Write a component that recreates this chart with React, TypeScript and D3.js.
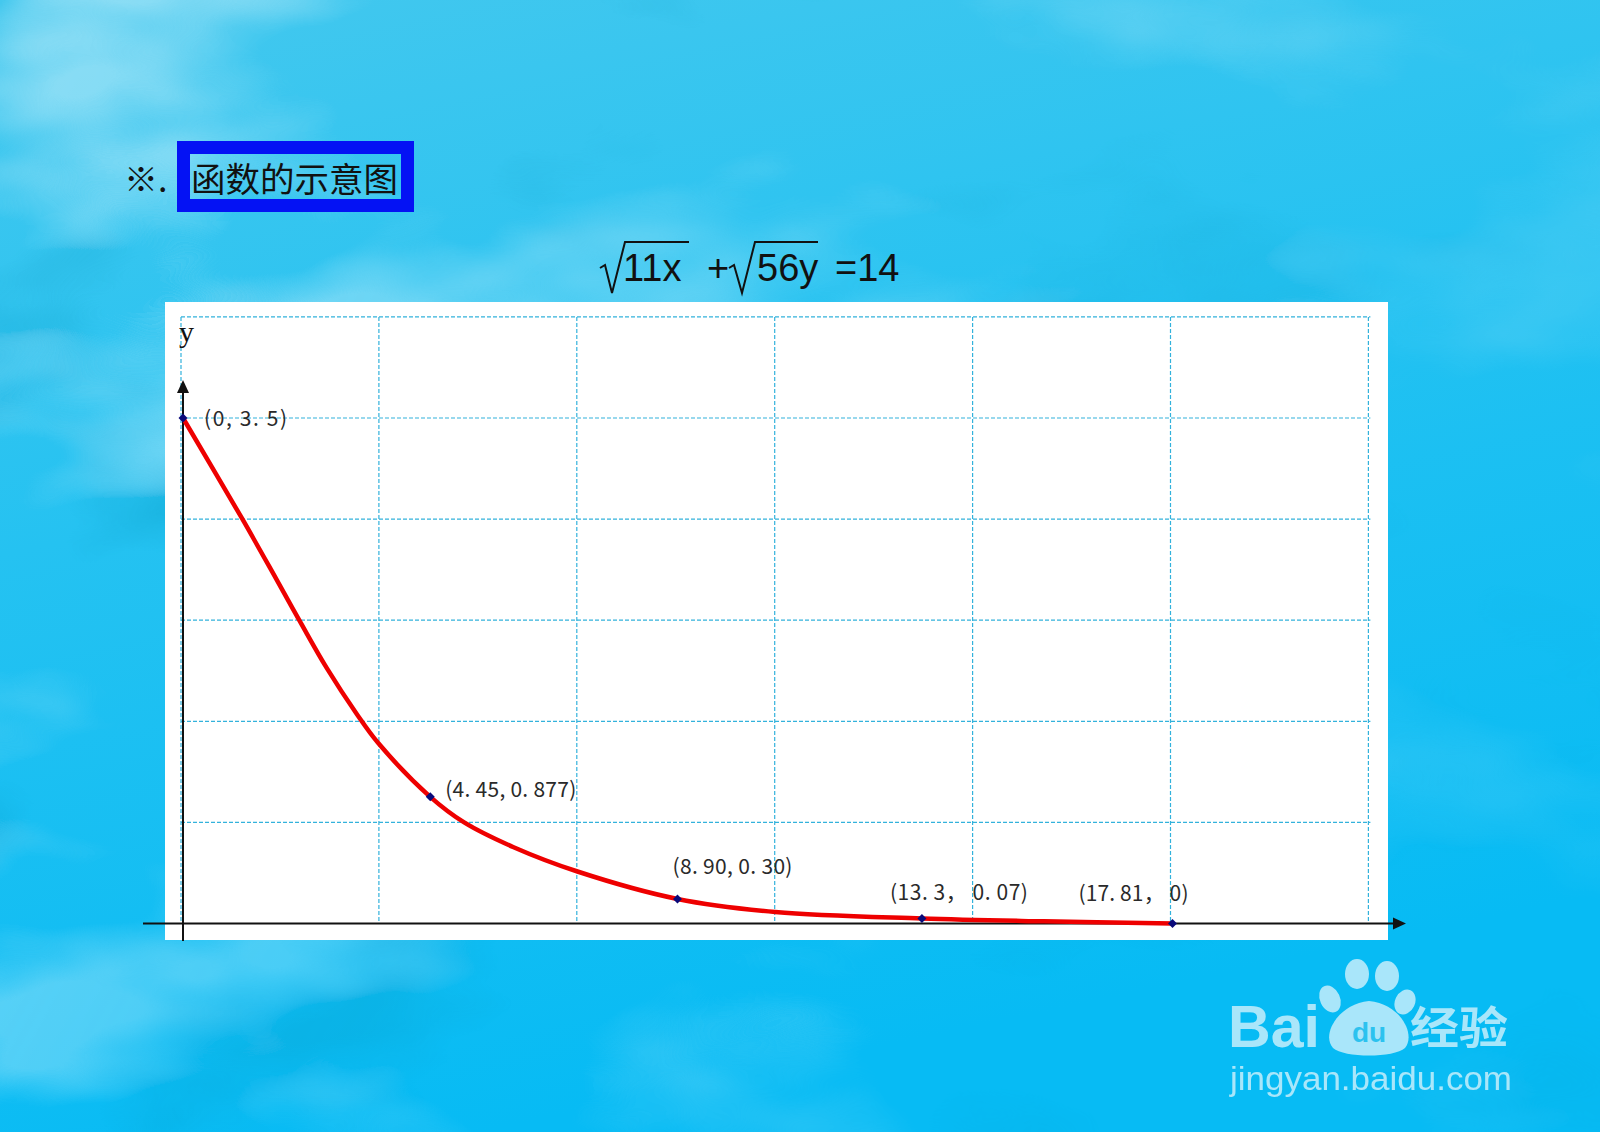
import React from "react";
import * as d3 from "d3";

// ---------- data ----------
const curveX = [0, 1.06, 1.66, 2.12, 2.58, 3.13, 3.51, 4.45, 5.06, 5.94, 7.1, 8.9, 10.66, 13.3, 15.5, 17.81];
const curveY = [3.5, 2.806, 2.398, 2.081, 1.773, 1.449, 1.251, 0.877, 0.7, 0.53, 0.36, 0.17, 0.08, 0.035, 0.015, 0];

const pointX = [0, 4.45, 8.9, 13.3, 17.81];
const pointY = [3.5, 0.877, 0.17, 0.035, 0];
const pointLabels = ["(0, 3. 5)", "(4. 45, 0. 877)", "(8. 90, 0. 30)", "(13. 3， 0. 07)", "(17. 81，  0)"];

const gridXTicks = [0, 3.562, 7.124, 10.686, 14.248, 17.81, 21.372];
const gridYTicks = [0, 0.7, 1.4, 2.1, 2.8, 3.5, 4.2];

const titlePrefix = "※.";
const titleText = "函数的示意图";
const axisLabelY = "y";
const eqParts = ["11x", "+", "56y", "=14"];
const wmBai = "Bai";
const wmDu = "du";
const wmCn = "经验";
const wmUrl = "jingyan.baidu.com";

// ---------- layout ----------
const W = 1600;
const H = 1132;
// [dx, dy, textLength]
const labelLayout = [
  [21, 8, 83],
  [15, 0, 131],
  [-5, -25, 120],
  [-32, -18, 138],
  [-94, -23, 110],
];

const xScale = d3.scaleLinear().domain([0, 17.81]).range([183, 1172.5]);
const yScale = d3.scaleLinear().domain([0, 3.5]).range([923.5, 418]);

export default function App() {
  const line = d3
    .line<number>()
    .x((d) => xScale(curveX[d]))
    .y((d) => yScale(curveY[d]))
    .curve(d3.curveCatmullRom.alpha(0.5));
  const curvePath = line(curveX.map((_, i) => i)) || "";

  const gx0 = xScale(gridXTicks[0]) - 2;
  const gx1 = xScale(gridXTicks[gridXTicks.length - 1]);
  const gy0 = yScale(gridYTicks[gridYTicks.length - 1]);
  const gy1 = yScale(gridYTicks[0]);
  const ax = xScale(0);
  const ay = yScale(0);

  const gridColor = "#33b2dc";

  return (
    <svg
      width={W}
      height={H}
      viewBox={`0 0 ${W} ${H}`}
      style={{ position: "absolute", left: 0, top: 0, display: "block" }}
    >
      <defs>
        <linearGradient id="bg" x1="0" y1="0" x2="0.3" y2="1">
          <stop offset="0" stopColor="#44c8ee" />
          <stop offset="0.45" stopColor="#25c2f1" />
          <stop offset="1" stopColor="#07bbf4" />
        </linearGradient>
        <filter id="marble" x="0" y="0" width="100%" height="100%">
          <feTurbulence type="fractalNoise" baseFrequency="0.0022 0.0045" numOctaves="4" seed="11" result="n" />
          <feColorMatrix
            in="n"
            type="matrix"
            values="0 0 0 0 1  0 0 0 0 1  0 0 0 0 1  4 0 0 0 -2.05"
            result="w"
          />
          <feColorMatrix
            in="n"
            type="matrix"
            values="0 0 0 0 0  0 0 0 0 0.3  0 0 0 0 0.5  0 -4 0 0 1.7"
            result="d"
          />
          <feMerge>
            <feMergeNode in="d" />
            <feMergeNode in="w" />
          </feMerge>
        </filter>
        <linearGradient id="fade" x1="0" y1="0" x2="1" y2="0.4">
          <stop offset="0" stopColor="#fff" stopOpacity="1" />
          <stop offset="0.55" stopColor="#fff" stopOpacity="0.5" />
          <stop offset="1" stopColor="#fff" stopOpacity="0.2" />
        </linearGradient>
        <mask id="fadeMask">
          <rect x={0} y={0} width={W} height={H} fill="url(#fade)" />
        </mask>
      </defs>

      {/* background */}
      <rect x={0} y={0} width={W} height={H} fill="url(#bg)" />
      <rect x={0} y={0} width={W} height={H} filter="url(#marble)" opacity={0.4} mask="url(#fadeMask)" />

      {/* title */}
      <text
        x={124}
        y={177}
        fontFamily="'Noto Sans CJK SC', sans-serif"
        fontSize={34}
        dominantBaseline="central"
        fill="#111"
      >
        {titlePrefix}
      </text>
      <rect x={183.5} y={147.5} width={224} height={58} fill="none" stroke="#0412f4" strokeWidth={13} />
      <text
        x={191}
        y={177.5}
        fontFamily="'Noto Sans CJK SC', sans-serif"
        fontSize={34}
        dominantBaseline="central"
        textLength={207}
        lengthAdjust="spacingAndGlyphs"
        fill="#111"
      >
        {titleText}
      </text>

      {/* equation */}
      <g fontFamily="'Liberation Sans', Arial, sans-serif" fontSize={38} fill="#111">
        <path d="M600,268 L605,265 L612,293 L625,242 L689,242" fill="none" stroke="#111" strokeWidth={2} />
        <text x={623} y={281}>{eqParts[0]}</text>
        <text x={707} y={281}>{eqParts[1]}</text>
        <path d="M729,268 L734,265 L742,293 L755,242 L818,242" fill="none" stroke="#111" strokeWidth={2} />
        <text x={757} y={281}>{eqParts[2]}</text>
        <text x={835} y={281}>{eqParts[3]}</text>
      </g>

      {/* white panel */}
      <rect x={165} y={302} width={1223} height={638} fill="#ffffff" />

      {/* grid */}
      <g stroke={gridColor} strokeWidth={1.2} strokeDasharray="4 2" fill="none">
        {gridXTicks.map((t, i) => (
          <line key={"gx" + i} x1={xScale(t) - 2} x2={xScale(t) - 2} y1={gy0} y2={gy1} />
        ))}
        {gridYTicks.map((t, i) => (
          <line key={"gy" + i} x1={gx0} x2={gx1} y1={yScale(t)} y2={yScale(t)} />
        ))}
      </g>

      {/* axes */}
      <g stroke="#111" strokeWidth={2}>
        <line x1={ax} x2={ax} y1={941} y2={392} />
        <line x1={143} x2={1394} y1={ay} y2={ay} />
      </g>
      <polygon points={`${ax},380 ${ax - 6},393 ${ax + 6},393`} fill="#111" />
      <polygon points={`1406,${ay} 1393,${ay - 6} 1393,${ay + 6}`} fill="#111" />
      <text x={179} y={342} fontFamily="'Liberation Serif', serif" fontSize={30} fill="#111">
        {axisLabelY}
      </text>

      {/* curve */}
      <path d={curvePath} fill="none" stroke="#ee0000" strokeWidth={4.5} strokeLinejoin="round" strokeLinecap="round" />

      {/* points */}
      {pointX.map((px, i) => {
        const cx = xScale(px);
        const cy = yScale(pointY[i]);
        return (
          <polygon
            key={"p" + i}
            points={`${cx},${cy - 4.5} ${cx + 4.5},${cy} ${cx},${cy + 4.5} ${cx - 4.5},${cy}`}
            fill="#0a0a7a"
          />
        );
      })}

      {/* point labels */}
      <g fontFamily="'Noto Sans CJK SC', sans-serif" fontSize={21} fill="#2a2a2a">
        {pointLabels.map((lab, i) => (
          <text
            key={"l" + i}
            x={xScale(pointX[i]) + labelLayout[i][0]}
            y={yScale(pointY[i]) + labelLayout[i][1]}
            textLength={labelLayout[i][2]}
            lengthAdjust="spacing"
          >
            {lab}
          </text>
        ))}
      </g>

      {/* watermark */}
      <g fill="#c0edfb" opacity={0.88}>
        <text
          x={1228}
          y={1047}
          fontFamily="'Liberation Sans', Arial, sans-serif"
          fontWeight="bold"
          fontSize={60}
          textLength={92}
          lengthAdjust="spacingAndGlyphs"
        >
          {wmBai}
        </text>
        <ellipse cx={1330} cy={999} rx={10} ry={14} transform="rotate(-25 1330 999)" />
        <ellipse cx={1357} cy={974} rx={12} ry={15} />
        <ellipse cx={1387} cy={976} rx={12} ry={15} />
        <ellipse cx={1405} cy={1002} rx={10} ry={13} transform="rotate(25 1405 1002)" />
        <path d="M1333,1048 C1321,1035 1338,1004 1369,1001 C1401,1004 1416,1035 1405,1048 C1394,1058 1344,1058 1333,1048 Z" />
        <text
          x={1410}
          y={1044}
          fontFamily="'Noto Sans CJK SC', sans-serif"
          fontWeight="bold"
          fontSize={44}
          textLength={98}
          lengthAdjust="spacingAndGlyphs"
        >
          {wmCn}
        </text>
        <text
          x={1230}
          y={1090}
          fontFamily="'Liberation Sans', Arial, sans-serif"
          fontSize={34}
          textLength={282}
          lengthAdjust="spacingAndGlyphs"
        >
          {wmUrl}
        </text>
      </g>
      <text
        x={1369}
        y={1042}
        textAnchor="middle"
        fontFamily="'Liberation Sans', Arial, sans-serif"
        fontWeight="bold"
        fontSize={28}
        fill="#2cc2ef"
      >
        {wmDu}
      </text>
    </svg>
  );
}
